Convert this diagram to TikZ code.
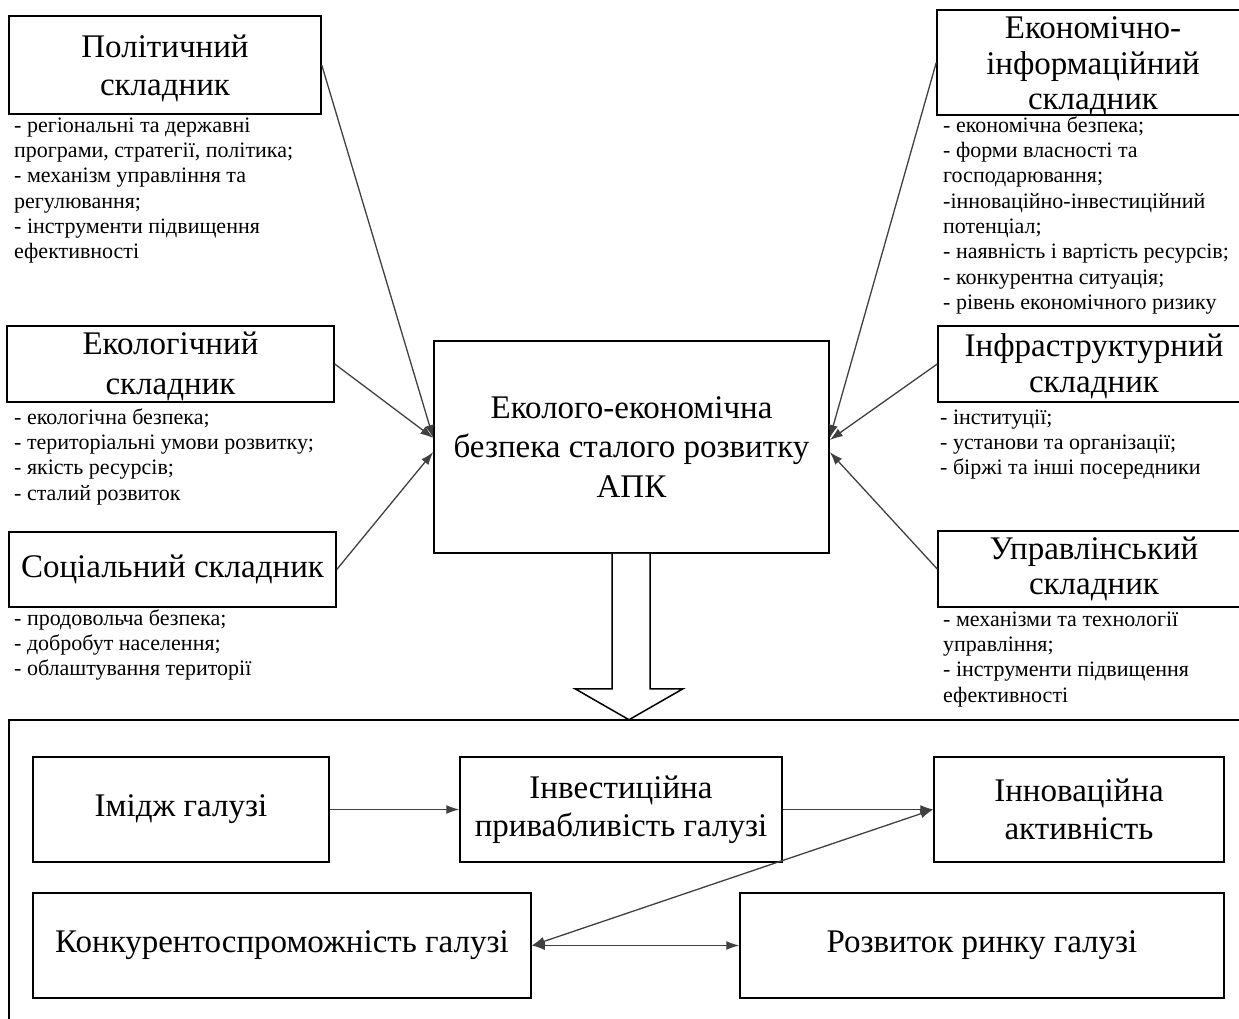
\documentclass[tikz,border=0pt]{standalone}
\usepackage{fontspec}
\setmainfont{Liberation Serif}
\usetikzlibrary{arrows.meta,calc}
\definecolor{arr}{HTML}{404040}
\begin{document}
\begin{tikzpicture}[x=1pt,y=-1pt,
  box/.style={draw=black, line width=1.5pt, inner sep=0pt, align=center, font=\fontsize{33}{37}\selectfont},
  ttl/.style={inner sep=0pt, align=center},
  lst/.style={anchor=north west, inner sep=0pt, align=left, font=\fontsize{22}{25.3}\selectfont},
  con/.style={draw=arr, line width=1.3pt, -{Latex[length=13pt,width=9pt]}},
  dcon/.style={draw=arr, line width=1.3pt, {Latex[length=13pt,width=9pt]}-{Latex[length=13pt,width=9pt]}},
  frame/.style={draw=black, line width=1.5pt},
]
\useasboundingbox (0,0) rectangle (1239,1019);

% left components
\node[box, minimum width=312pt, minimum height=98pt, font=\fontsize{33}{38}\selectfont] (pol) at (165,65) {};
\node[ttl, font=\fontsize{33}{38}\selectfont] (polT) at ($(pol.center)+(0,3)$) {Політичний\\складник};
\node[lst] (polL) at (14,114.3) {\strut- регіональні та державні\\програми, стратегії, політика;\\- механізм управління та\\регулювання;\\- інструменти підвищення\\ефективності};

\node[box, minimum width=327pt, minimum height=76pt] (eko) at (170.5,364) {};
\node[ttl, font=\fontsize{33}{40}\selectfont] (ekoT) at ($(eko.center)+(0,2)$) {Екологічний\\складник};
\node[lst] (ekoL) at (14,406.3) {\strut- екологічна безпека;\\- територіальні умови розвитку;\\- якість ресурсів;\\- сталий розвиток};

\node[box, minimum width=327pt, minimum height=75pt] (soc) at (172.5,569.5) {Соціальний складник};
\node[lst] (socL) at (14,607.3) {\strut- продовольча безпека;\\- добробут населення;\\- облаштування території};

% centre
\node[box, minimum width=395pt, minimum height=212pt, font=\fontsize{33}{39.5}\selectfont] (c) at (631.5,447) {Еколого-економічна\\безпека сталого розвитку\\АПК};

% right components
\node[box, minimum width=312pt, minimum height=105pt] (econ) at (1093,62.5) {};
\node[ttl, font=\fontsize{33}{35.5}\selectfont] (econT) at ($(econ.center)+(0,4)$) {Економічно-\\інформаційний\\складник};
\node[lst] (econL) at (943,114.3) {\strut- економічна безпека;\\- форми власності та\\господарювання;\\-інноваційно-інвестиційний\\потенціал;\\- наявність і вартість ресурсів;\\- конкурентна ситуація;\\- рівень економічного ризику};

\node[box, minimum width=312pt, minimum height=76pt] (infra) at (1094,364) {};
\node[ttl, font=\fontsize{33}{36}\selectfont] (infraT) at ($(infra.center)+(0,2)$) {Інфраструктурний\\складник};
\node[lst] (infraL) at (940,406.3) {\strut- інституції;\\- установи та організації;\\- біржі та інші посередники};

\node[box, minimum width=312pt, minimum height=76pt, font=\fontsize{33}{35.5}\selectfont] (upr) at (1094,569) {Управлінський\\складник};
\node[lst] (uprL) at (943,608.3) {\strut- механізми та технології\\управління;\\- інструменти підвищення\\ефективності};

% connectors to centre
\draw[con] (pol.east) -- ($(c.west)+(0,-9)$);
\draw[con] (eko.east) -- ($(c.west)+(0,-9)$);
\draw[con] (soc.east) -- ($(c.west)+(0,5)$);
\draw[con] (econ.west) -- ($(c.east)+(0,-9)$);
\draw[con] (infra.west) -- ($(c.east)+(0,-7)$);
\draw[con] (upr.west) -- ($(c.east)+(0,5)$);

% frame of the lower block
\draw[frame] (9,1030) -- (9,720) -- (1250,720);

% hollow arrow
\draw[frame, fill=white] ($(c.south)+(-19.5,0)$) -- ($(c.south)+(-19.5,135)$) -- ($(c.south)+(-56.5,135)$) -- ($(c.south)+(-2.5,166)$) -- ($(c.south)+(51.5,135)$) -- ($(c.south)+(18.5,135)$) -- ($(c.south)+(18.5,0)$);

% lower block
\node[box, minimum width=296pt, minimum height=105pt] (img) at (181,809.5) {Імідж галузі};
\node[box, minimum width=322pt, minimum height=105pt, font=\fontsize{33}{38}\selectfont] (inv) at (621,809.5) {Інвестиційна\\привабливість галузі};
\node[box, minimum width=290pt, minimum height=105pt, font=\fontsize{33}{38}\selectfont] (inn) at (1079,809.5) {Інноваційна\\активність};
\node[box, minimum width=498pt, minimum height=105pt] (kon) at (282,945.5) {Конкурентоспроможність галузі};
\node[box, minimum width=484pt, minimum height=105pt] (roz) at (982,945.5) {Розвиток ринку галузі};

\draw[con] (img.east) -- (inv.west);
\draw[con] (inv.east) -- (inn.west);
\draw[dcon] (kon.east) -- (inn.west);
\draw[dcon] (kon.east) -- (roz.west);
\end{tikzpicture}
\end{document}
